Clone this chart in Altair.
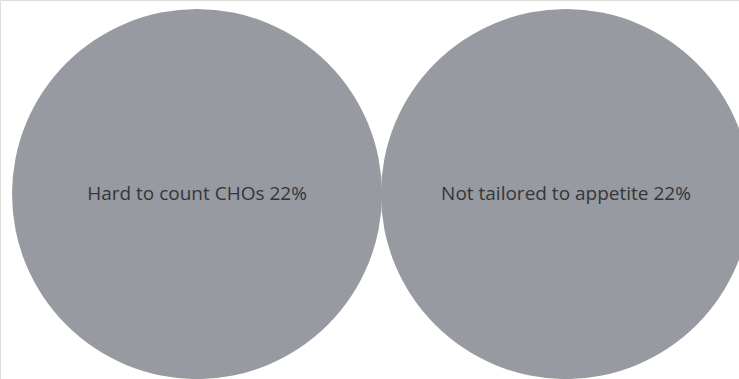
import altair as alt
import pandas as pd

labels = ["Hard to count CHOs", "Not tailored to appetite"]
percents = [22, 22]
positions = [1, 2]

df = pd.DataFrame({"label": labels, "pct": percents, "pos": positions})
df["text"] = df["label"] + " " + df["pct"].astype(str) + "%"
df["yy"] = 0

x = alt.X("pos:Q", scale=alt.Scale(domain=[0.466, 2.469], nice=False, zero=False), axis=None)
y = alt.Y("yy:Q", scale=alt.Scale(domain=[-0.976, 1.024], nice=False, zero=False), axis=None)

circles = alt.Chart(df).mark_circle(opacity=1, color="#979aa0").encode(
    x=x, y=y,
    size=alt.Size("pct:Q", scale=alt.Scale(domain=[0, 22], range=[0, 136900]), legend=None),
)

texts = alt.Chart(df).mark_text(font="Open Sans", fontSize=19, color="#363638").encode(
    x=x, y=y, text="text:N"
)

chart = (circles + texts).properties(
    width=739, height=379, padding=0, autosize=alt.AutoSizeParams(type="none")
).configure_view(stroke=None).configure(background="white")

chart.save("out.html", embed_options={"renderer": "svg", "actions": False})
